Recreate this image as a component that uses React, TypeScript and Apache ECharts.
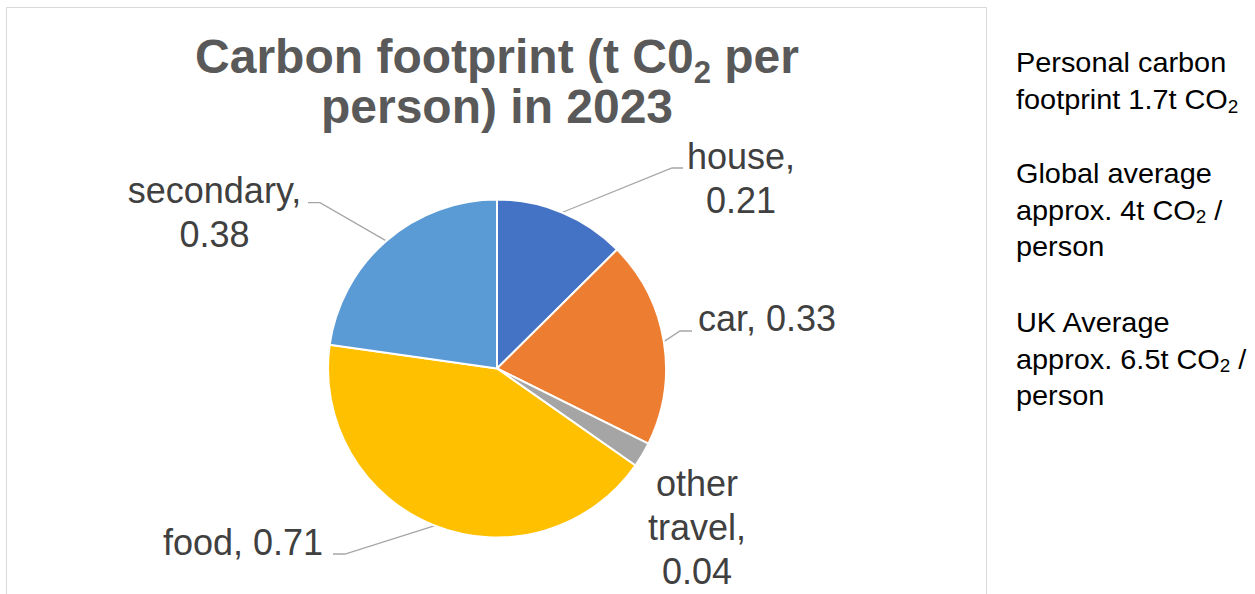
import React, { useEffect, useRef } from 'react';
import * as echarts from 'echarts';

// ---------- data ----------
const categories = ['house', 'car', 'other travel', 'food', 'secondary'];
const values = [0.21, 0.33, 0.04, 0.71, 0.38];
const titleText = 'Carbon footprint (t C0{sub|2} per\nperson) in 2023';
const noteBlocks = [
  'Personal carbon\nfootprint 1.7t CO{s|2}',
  'Global average\napprox. 4t CO{s|2} /\nperson',
  'UK Average\napprox. 6.5t CO{s|2} /\nperson',
];

// ---------- styles / layout ----------
const FONT = '"Liberation Sans", Arial, Helvetica, sans-serif';
const sliceColors = ['#4472C4', '#ED7D31', '#A5A5A5', '#FFC000', '#5B9BD5'];
const labelWrap = [true, false, true, false, true];
const PIE_CENTER = [497, 368.5];
const PIE_RADIUS = 169;
const labelAnchors = [
  [741, 178.5],
  [767, 318],
  [697, 527.5],
  [243, 542.5],
  [214.5, 212.5],
];
const leaderElbows: (number[][] | null)[] = [
  [[672, 168], [683, 168]],
  [[680, 331], [692, 331]],
  null,
  [[345, 554], [333, 554]],
  [[320, 202.7], [308, 202.7]],
];
const noteTops = [44.3, 155, 304];

function midEdgePoint(i: number): number[] {
  const total = values.reduce((a, b) => a + b, 0);
  let cum = 0;
  for (let k = 0; k < i; k++) cum += values[k];
  const frac = (cum + values[i] / 2) / total;
  const th = frac * Math.PI * 2;
  return [PIE_CENTER[0] + PIE_RADIUS * Math.sin(th), PIE_CENTER[1] - PIE_RADIUS * Math.cos(th)];
}

export default function App() {
  const ref = useRef<HTMLDivElement>(null);
  useEffect(() => {
    if (!ref.current) return;
    const chart = echarts.init(ref.current, undefined, { renderer: 'svg' });
    const option: any = {
      animation: false,
      backgroundColor: '#ffffff',
      textStyle: { fontFamily: FONT },
      graphic: [
        {
          type: 'rect',
          silent: true,
          z: -10,
          shape: { x: 6.5, y: 7.5, width: 980, height: 620 },
          style: { fill: 'none', stroke: '#d9d9d9', lineWidth: 1 },
        },
        {
          type: 'text',
          x: 497,
          y: 31,
          silent: true,
          style: {
            text: titleText,
            fontSize: 48,
            fontWeight: 'bold',
            fontFamily: FONT,
            fill: '#595959',
            align: 'center',
            verticalAlign: 'top',
            lineHeight: 50,
            rich: {
              sub: {
                fontSize: 31,
                fontWeight: 'bold',
                fontFamily: FONT,
                fill: '#595959',
                height: 17,
                lineHeight: 17,
                verticalAlign: 'bottom',
              },
            },
          },
        },
        ...noteBlocks.map((t, i) => ({
          type: 'text',
          x: 1016,
          y: noteTops[i],
          scaleX: 1.05,
          silent: true,
          style: {
            text: t,
            fontSize: 27.5,
            fontFamily: FONT,
            fill: '#000000',
            align: 'left',
            verticalAlign: 'top',
            lineHeight: 36.7,
            rich: {
              s: {
                fontSize: 18,
                fontFamily: FONT,
                fill: '#000000',
                height: 23,
                lineHeight: 23,
                verticalAlign: 'bottom',
              },
            },
          },
        })),
      ],
      series: [
        {
          type: 'pie',
          silent: true,
          center: PIE_CENTER,
          radius: PIE_RADIUS,
          startAngle: 90,
          clockwise: true,
          avoidLabelOverlap: false,
          itemStyle: { borderColor: '#ffffff', borderWidth: 2 },
          label: {
            show: true,
            position: 'outside',
            fontSize: 36,
            fontFamily: FONT,
            color: '#404040',
            lineHeight: 44,
            align: 'center',
            formatter: (p: any) => {
              const i = p.dataIndex;
              const v = Number(p.value).toFixed(2);
              if (labelWrap[i]) {
                return p.name.split(' ').join('\n') + ',\n' + v;
              }
              return p.name + ', ' + v;
            },
          },
          labelLine: {
            show: true,
            length: 10,
            length2: 10,
            lineStyle: { color: '#a6a6a6', width: 1.3 },
          },
          labelLayout: (p: any) => {
            const i = p.dataIndex;
            const res: any = {
              x: labelAnchors[i][0],
              y: labelAnchors[i][1],
              align: 'center',
              verticalAlign: 'middle',
            };
            const el = leaderElbows[i];
            if (el) {
              res.labelLinePoints = [midEdgePoint(i), el[0], el[1]];
            }
            return res;
          },
          data: categories.map((n, i) => ({
            name: n,
            value: values[i],
            itemStyle: { color: sliceColors[i] },
            labelLine: { show: leaderElbows[i] != null },
          })),
        },
      ],
    };
    chart.setOption(option);
    return () => chart.dispose();
  }, []);
  return (
    <div
      ref={ref}
      style={{ position: 'absolute', left: 0, top: 0, width: 1255, height: 594, background: '#fff' }}
    />
  );
}
